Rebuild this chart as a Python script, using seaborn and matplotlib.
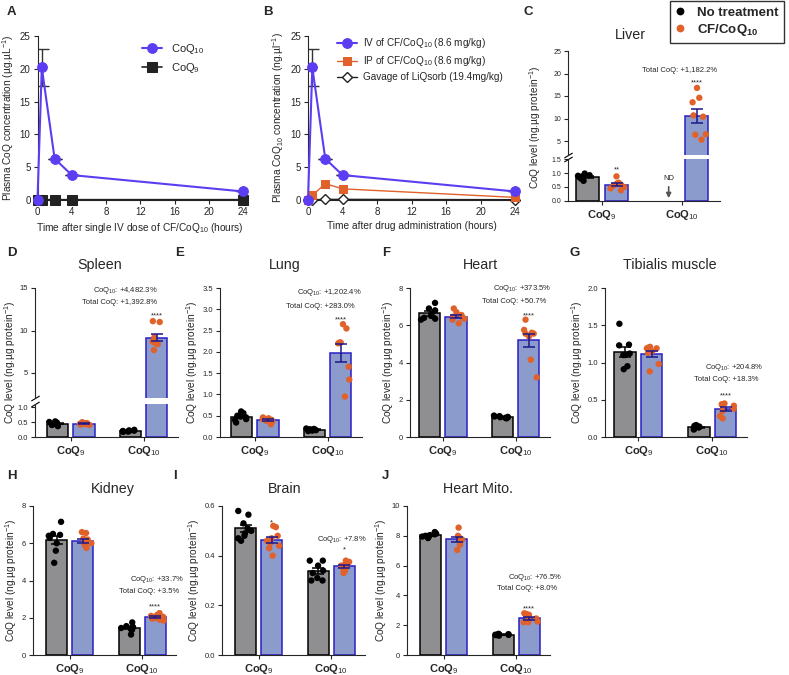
import numpy as np
import pandas as pd
import matplotlib
matplotlib.use("Agg")
import matplotlib.pyplot as plt
from matplotlib.lines import Line2D
from matplotlib.ticker import FormatStrFormatter
import seaborn as sns

# ---- plasma pharmacokinetics (A, B) ----
pk_time = [0, 0.5, 2, 4, 24]
iv_coq10 = [0, 20.2, 6.3, 3.8, 1.3]
iv_coq10_sem = [0, 2.75, 0, 0, 0]
iv_coq9 = [0, 0.05, 0.05, 0.05, 0.05]
ip_coq10 = [0, 0.7, 2.5, 1.7, 0.4]
gavage_coq10 = [0, 0.05, 0.1, 0.1, 0.05]

# ---- tissue CoQ levels (ng/ug protein) ----
liver_ctrl_q9 = [0.98, 0.92, 0.90, 0.88, 0.86, 0.85, 0.80, 0.72]
liver_cf_q9 = [0.88, 0.65, 0.62, 0.58, 0.55, 0.50, 0.45, 0.38]
liver_ctrl_q10 = []  # not detected
liver_cf_q10 = [16.8, 14.6, 13.6, 10.7, 10.4, 6.5, 6.4, 5.3]

spleen_ctrl_q9 = [0.52, 0.50, 0.48, 0.46, 0.45, 0.43, 0.40, 0.36]
spleen_cf_q9 = [0.49, 0.48, 0.46, 0.45, 0.44, 0.43, 0.41, 0.40]
spleen_ctrl_q10 = [0.24, 0.22, 0.21, 0.20, 0.20, 0.19, 0.18, 0.17]
spleen_cf_q10 = [11.1, 11.0, 9.2, 8.7, 8.6, 8.5, 8.4, 7.7]

lung_ctrl_q9 = [0.60, 0.56, 0.50, 0.48, 0.46, 0.42, 0.40, 0.34]
lung_cf_q9 = [0.46, 0.44, 0.42, 0.41, 0.40, 0.38, 0.36, 0.30]
lung_ctrl_q10 = [0.20, 0.19, 0.18, 0.17, 0.17, 0.16, 0.15, 0.14]
lung_cf_q10 = [2.65, 2.55, 2.22, 2.20, 2.22, 1.65, 1.35, 0.95]

heart_ctrl_q9 = [7.2, 6.9, 6.8, 6.6, 6.5, 6.4, 6.35, 6.3]
heart_cf_q9 = [6.9, 6.7, 6.55, 6.45, 6.4, 6.35, 6.3, 6.1]
heart_ctrl_q10 = [1.15, 1.12, 1.10, 1.08, 1.06, 1.05, 1.03, 1.00]
heart_cf_q10 = [6.3, 5.75, 5.6, 5.55, 5.55, 5.4, 4.15, 3.2]

tibialis_ctrl_q9 = [1.52, 1.24, 1.23, 1.12, 1.10, 1.10, 0.95, 0.91]
tibialis_cf_q9 = [1.21, 1.20, 1.19, 1.19, 1.15, 1.13, 0.98, 0.88]
tibialis_ctrl_q10 = [0.16, 0.15, 0.14, 0.13, 0.13, 0.12, 0.11, 0.10]
tibialis_cf_q10 = [0.45, 0.44, 0.43, 0.42, 0.38, 0.35, 0.28, 0.25]

kidney_ctrl_q9 = [7.15, 6.5, 6.45, 6.4, 6.3, 6.0, 5.6, 4.95]
kidney_cf_q9 = [6.6, 6.55, 6.25, 6.2, 5.95, 5.85, 5.75, 6.0]
kidney_ctrl_q10 = [1.75, 1.55, 1.5, 1.5, 1.45, 1.4, 1.35, 1.1]
kidney_cf_q10 = [2.25, 2.15, 2.1, 2.05, 2.0, 1.95, 1.9, 1.85]

brain_ctrl_q9 = [0.58, 0.565, 0.53, 0.51, 0.50, 0.49, 0.48, 0.47, 0.46]
brain_cf_q9 = [0.52, 0.515, 0.48, 0.47, 0.46, 0.45, 0.44, 0.43, 0.40]
brain_ctrl_q10 = [0.38, 0.38, 0.36, 0.34, 0.33, 0.31, 0.30, 0.30]
brain_cf_q10 = [0.38, 0.375, 0.37, 0.365, 0.36, 0.35, 0.345, 0.34, 0.33]

mito_ctrl_q9 = [8.25, 8.15, 8.1, 8.05, 8.0, 7.95, 7.9, 7.85]
mito_cf_q9 = [8.55, 8.0, 7.9, 7.8, 7.75, 7.7, 7.4, 7.05]
mito_ctrl_q10 = [1.42, 1.40, 1.38, 1.37, 1.36, 1.35, 1.33, 1.30]
mito_cf_q10 = [2.8, 2.75, 2.7, 2.45, 2.35, 2.25, 2.2, 2.2]

COQ_ORDER = ["CoQ9", "CoQ10"]
GROUP_ORDER = ["No treatment", "CF/CoQ10"]
COQ_LABELS = [r"$\mathbf{CoQ}_{9}$", r"$\mathbf{CoQ}_{10}$"]

BAR_FILL = ["#8f8f91", "#8b9bcc"]
BAR_EDGE = ["#000000", "#2a1fc4"]
ERR_COLOR = ["#000000", "#1c178c"]
DOT_COLOR = ["#000000", "#e0622a"]
IV_BLUE = "#5c3df2"
ORANGE = "#e0622a"

sns.set_style("ticks")
plt.rcParams["font.family"] = ["Liberation Sans", "DejaVu Sans"]
plt.rcParams["mathtext.fontset"] = "custom"
plt.rcParams["mathtext.rm"] = "Liberation Sans"
plt.rcParams["mathtext.it"] = "Liberation Sans:italic"
plt.rcParams["mathtext.bf"] = "Liberation Sans:bold"
plt.rcParams["axes.linewidth"] = 0.8

W, H = 789, 675
fig = plt.figure(figsize=(W / 100, H / 100), dpi=100)


def px_axes(left, top, right, bottom):
    return fig.add_axes([left / W, 1 - bottom / H, (right - left) / W, (bottom - top) / H])


def tissue_df(ctrl9, cf9, ctrl10, cf10):
    parts = []
    for coq, grp, vals in [("CoQ9", GROUP_ORDER[0], ctrl9), ("CoQ9", GROUP_ORDER[1], cf9),
                           ("CoQ10", GROUP_ORDER[0], ctrl10), ("CoQ10", GROUP_ORDER[1], cf10)]:
        if len(vals):
            parts.append(pd.DataFrame({"coq": coq, "group": grp, "value": vals}))
    return pd.concat(parts, ignore_index=True)


def draw_bars(ax, df, seed):
    sns.barplot(data=df, x="coq", y="value", hue="group", order=COQ_ORDER, hue_order=GROUP_ORDER,
                palette=BAR_FILL, saturation=1, errorbar=None, width=0.72, gap=0.19,
                linewidth=1.1, legend=False, zorder=1, ax=ax)
    for cont, edge in zip(ax.containers, BAR_EDGE):
        for patch in cont:
            patch.set_edgecolor(edge)
    np.random.seed(seed)
    sns.stripplot(data=df, x="coq", y="value", hue="group", order=COQ_ORDER, hue_order=GROUP_ORDER,
                  palette=DOT_COLOR, dodge=True, jitter=0.2, size=4.6, linewidth=0,
                  legend=False, zorder=3, ax=ax)
    stats = df.groupby(["group", "coq"])["value"].agg(["mean", "sem"])
    for cont, grp, ecol in zip(ax.containers, GROUP_ORDER, ERR_COLOR):
        for patch in cont:
            xc = patch.get_x() + patch.get_width() / 2
            coq = COQ_ORDER[int(round(xc))]
            if (grp, coq) not in stats.index:
                continue
            m, s = stats.loc[(grp, coq)]
            ax.errorbar(xc, m, yerr=s, fmt="none", ecolor=ecol, elinewidth=1.1,
                        capsize=4.5, capthick=1.1, zorder=4)
    ax.set_xlabel("")
    ax.set_ylabel("")
    sns.despine(ax=ax)
    ax.tick_params(length=3, width=0.8, labelsize=5.5, pad=2)
    ax.set_xticks([0, 1])
    ax.set_xticklabels(COQ_LABELS, fontsize=8)


def break_marks(ax_top, ax_bot):
    kw = dict(marker=[(-1, -0.6), (1, 0.6)], markersize=6, linestyle="none",
              color="k", mec="k", mew=0.8, clip_on=False)
    ax_top.plot([0], [0], transform=ax_top.transAxes, **kw)
    ax_bot.plot([0], [1], transform=ax_bot.transAxes, **kw)


def note(ax, x, y, s, ha="right"):
    ax.text(x, y, s, ha=ha, va="baseline", fontsize=5.5)


YLAB = "CoQ level (ng.µg protein$^{-1}$)"

# ---------------- A ----------------
axA = px_axes(37.5, 36, 243, 200)
sns.lineplot(x=pk_time, y=iv_coq10, color=IV_BLUE, marker="o", markersize=7, mec=IV_BLUE,
             linewidth=1.5, errorbar=None, clip_on=False, label="CoQ$_{10}$", zorder=4, ax=axA)
sns.lineplot(x=pk_time, y=iv_coq9, color="#222222", marker="s", markersize=6.5, mec="#222222",
             linewidth=1.2, errorbar=None, clip_on=False, label="CoQ$_{9}$", zorder=3, ax=axA)
axA.errorbar(pk_time, iv_coq10, yerr=iv_coq10_sem, fmt="none", ecolor="#333333",
             elinewidth=1, capsize=5, capthick=1, zorder=2)
handles, labels = axA.get_legend_handles_labels()
axA.legend(handles, labels, loc="upper left", bbox_to_anchor=(0.51, 0.965), frameon=False,
           fontsize=8, handlelength=1.8, handletextpad=0.8, labelspacing=0.45,
           borderpad=0, borderaxespad=0)
axA.set_xlim(0, 24)
axA.set_ylim(0, 25)
axA.set_xticks(range(0, 25, 4))
axA.set_yticks(range(0, 26, 5))
axA.set_xlabel("Time after single IV dose of CF/CoQ$_{10}$ (hours)", fontsize=7.3, labelpad=3)
axA.set_ylabel("Plasma CoQ concentration (µg.µL$^{-1}$)", fontsize=7.3, labelpad=3)
axA.tick_params(length=3, width=0.8, labelsize=7, pad=2)
sns.despine(ax=axA)

# ---------------- B ----------------
axB = px_axes(308, 36, 515, 200)
sns.lineplot(x=pk_time, y=gavage_coq10, color="#222222", marker="D", markersize=5,
             mfc="white", mec="#222222", mew=1, linewidth=1, errorbar=None, clip_on=False,
             label="Gavage of LiQsorb (19.4mg/kg)", zorder=3, ax=axB)
sns.lineplot(x=pk_time, y=ip_coq10, color=ORANGE, marker="s", markersize=6, mec=ORANGE,
             linewidth=1, errorbar=None, clip_on=False,
             label="IP of CF/CoQ$_{10}$ (8.6 mg/kg)", zorder=4, ax=axB)
sns.lineplot(x=pk_time, y=iv_coq10, color=IV_BLUE, marker="o", markersize=7, mec=IV_BLUE,
             linewidth=1.5, errorbar=None, clip_on=False,
             label="IV of CF/CoQ$_{10}$ (8.6 mg/kg)", zorder=5, ax=axB)
axB.errorbar(pk_time, iv_coq10, yerr=iv_coq10_sem, fmt="none", ecolor="#333333",
             elinewidth=1, capsize=5, capthick=1, zorder=2)
handles, labels = axB.get_legend_handles_labels()
axB.legend(handles[::-1], labels[::-1], loc="upper left", bbox_to_anchor=(0.14, 1.0),
           frameon=False, fontsize=7.2, handlelength=2.0, handletextpad=0.6,
           labelspacing=0.4, borderpad=0, borderaxespad=0)
axB.set_xlim(0, 24)
axB.set_ylim(0, 25)
axB.set_xticks(range(0, 25, 4))
axB.set_yticks(range(0, 26, 5))
axB.set_xlabel("Time after drug administration (hours)", fontsize=7.3, labelpad=3)
axB.set_ylabel("Plasma CoQ$_{10}$ concentration (ng.µl$^{-1}$)", fontsize=7.3, labelpad=3)
axB.tick_params(length=3, width=0.8, labelsize=7, pad=2)
sns.despine(ax=axB)

# ---------------- C (liver, broken axis) ----------------
liver = tissue_df(liver_ctrl_q9, liver_cf_q9, liver_ctrl_q10, liver_cf_q10)
axC_up = px_axes(568, 51, 720, 154.5)
axC_lo = px_axes(568, 159, 720, 201)
draw_bars(axC_up, liver, 1)
draw_bars(axC_lo, liver, 1)
for ax in (axC_up, axC_lo):
    ax.set_xlim(-0.425, 1.47)
    ax.tick_params(labelsize=5)
axC_up.set_ylim(2, 25)
axC_up.set_yticks([5, 10, 15, 20, 25])
axC_up.spines["bottom"].set_visible(False)
axC_up.tick_params(bottom=False, labelbottom=False)
axC_lo.set_ylim(0, 1.5)
axC_lo.set_yticks([0, 0.5, 1.0, 1.5])
axC_lo.yaxis.set_major_formatter(FormatStrFormatter("%.1f"))
axC_lo.set_xticklabels(COQ_LABELS, fontsize=8)
break_marks(axC_up, axC_lo)
note(axC_up, 1.44, 20.4, "Total CoQ: +1,182.2%")
note(axC_up, 1.18, 17.6, "****", ha="center")
note(axC_lo, 0.18, 1.04, "**", ha="center")
axC_lo.annotate("ND", xy=(0.83, 0.1), xytext=(0.83, 0.8), ha="center", va="center",
                fontsize=5.5, arrowprops=dict(arrowstyle="-|>", color="#555555", lw=1.2,
                                              mutation_scale=7, shrinkA=1, shrinkB=0))
fig.text(535 / W, 1 - 127 / H, YLAB, rotation=90, ha="center", va="center", fontsize=7.3)

# ---------------- D (spleen, broken axis) ----------------
spleen = tissue_df(spleen_ctrl_q9, spleen_cf_q9, spleen_ctrl_q10, spleen_cf_q10)
axD_up = px_axes(35, 288, 178, 398.5)
axD_lo = px_axes(35, 404, 178, 437)
draw_bars(axD_up, spleen, 2)
draw_bars(axD_lo, spleen, 2)
for ax in (axD_up, axD_lo):
    ax.set_xlim(-0.49, 1.47)
axD_up.set_ylim(2, 15)
axD_up.set_yticks([5, 10, 15])
axD_up.spines["bottom"].set_visible(False)
axD_up.tick_params(bottom=False, labelbottom=False)
axD_lo.set_ylim(0, 1.1)
axD_lo.set_yticks([0, 0.5, 1.0])
axD_lo.yaxis.set_major_formatter(FormatStrFormatter("%.1f"))
break_marks(axD_up, axD_lo)
note(axD_up, 1.19, 14.56, "CoQ$_{10}$: +4,482.3%")
note(axD_up, 1.19, 13.15, "Total CoQ: +1,392.8%")
note(axD_up, 1.18, 11.54, "****", ha="center")
fig.text(10 / W, 1 - 362 / H, YLAB, rotation=90, ha="center", va="center", fontsize=7.3)

# ---------------- remaining tissues ----------------
panels = [
    # name, data, (left, top, right, bottom), xlim left, ylim, yticks, fmt, seed
    ("E", tissue_df(lung_ctrl_q9, lung_cf_q9, lung_ctrl_q10, lung_cf_q10),
     (220, 288, 362, 437), -0.48, 3.5, np.arange(0, 3.51, 0.5), "%.1f", 3),
    ("F", tissue_df(heart_ctrl_q9, heart_cf_q9, heart_ctrl_q10, heart_cf_q10),
     (410, 288, 550, 437), -0.45, 8, np.arange(0, 9, 2), "%d", 4),
    ("G", tissue_df(tibialis_ctrl_q9, tibialis_cf_q9, tibialis_ctrl_q10, tibialis_cf_q10),
     (605, 288, 747, 437), -0.45, 2.0, np.arange(0, 2.01, 0.5), "%.1f", 5),
    ("H", tissue_df(kidney_ctrl_q9, kidney_cf_q9, kidney_ctrl_q10, kidney_cf_q10),
     (33, 506, 176, 655), -0.51, 8, np.arange(0, 9, 2), "%d", 6),
    ("I", tissue_df(brain_ctrl_q9, brain_cf_q9, brain_ctrl_q10, brain_cf_q10),
     (222, 506, 365, 655), -0.51, 0.6, np.arange(0, 0.61, 0.2), "%.1f", 7),
    ("J", tissue_df(mito_ctrl_q9, mito_cf_q9, mito_ctrl_q10, mito_cf_q10),
     (407, 506, 550, 655), -0.51, 10, np.arange(0, 11, 2), "%d", 8),
]
axes = {}
for name, df, box, xl, ytop, yticks, fmt, seed in panels:
    ax = px_axes(*box)
    draw_bars(ax, df, seed)
    ax.set_xlim(xl, 1.47)
    ax.set_ylim(0, ytop)
    ax.set_yticks(yticks)
    ax.yaxis.set_major_formatter(FormatStrFormatter(fmt))
    ax.set_ylabel(YLAB, fontsize=7.3, labelpad=2)
    axes[name] = ax

note(axes["E"], 1.47, 3.35, "CoQ$_{10}$: +1,202.4%")
note(axes["E"], 1.37, 3.02, "Total CoQ: +283.0%")
note(axes["E"], 1.18, 2.72, "****", ha="center")
note(axes["F"], 1.49, 7.87, "CoQ$_{10}$: +373.5%")
note(axes["F"], 1.42, 7.22, "Total CoQ: +50.7%")
note(axes["F"], 1.18, 6.43, "****", ha="center")
note(axes["G"], 1.69, 0.917, "CoQ$_{10}$: +204.8%")
note(axes["G"], 1.62, 0.756, "Total CoQ: +18.3%")
note(axes["G"], 1.18, 0.53, "****", ha="center")
note(axes["H"], 1.58, 3.99, "CoQ$_{10}$: +33.7%")
note(axes["H"], 1.51, 3.35, "Total CoQ: +3.5%")
note(axes["H"], 1.18, 2.51, "****", ha="center")
note(axes["I"], 0.18, 0.527, "*", ha="center")
note(axes["I"], 1.49, 0.461, "CoQ$_{10}$: +7.8%")
note(axes["I"], 1.18, 0.418, "*", ha="center")
note(axes["J"], 1.64, 5.12, "CoQ$_{10}$: +76.5%")
note(axes["J"], 1.57, 4.34, "Total CoQ: +8.0%")
note(axes["J"], 1.18, 3.01, "****", ha="center")

# ---------------- titles, letters, legend ----------------
titles = [("Liver", 630, 35), ("Spleen", 100, 265), ("Lung", 285, 265), ("Heart", 480, 265),
          ("Tibialis muscle", 670, 265), ("Kidney", 113, 489), ("Brain", 285, 489),
          ("Heart Mito.", 478, 489)]
for s, x, y in titles:
    fig.text(x / W, 1 - y / H, s, ha="center", va="center", fontsize=10.3)

letters = [("A", 7, 12), ("B", 263, 12), ("C", 523, 12), ("D", 7, 253), ("E", 175, 253),
           ("F", 382, 253), ("G", 570, 253), ("H", 7, 476), ("I", 173, 476), ("J", 382, 476)]
for s, x, y in letters:
    fig.text(x / W, 1 - y / H, s, ha="left", va="center", fontsize=9.5, fontweight="bold")

leg_handles = [Line2D([], [], marker="o", linestyle="none", color=c, markersize=4.6)
               for c in DOT_COLOR]
leg = fig.legend(leg_handles, ["No treatment", r"CF/CoQ$_\mathbf{10}$"], loc="upper left",
                 bbox_to_anchor=(670 / W, 1 - 1 / H), frameon=True, fancybox=False,
                 edgecolor="black", prop={"size": 9.5, "weight": "bold"}, handlelength=0.7,
                 handletextpad=0.95, labelspacing=0.25, borderpad=0.4, borderaxespad=0)
leg.get_frame().set_linewidth(1.0)

fig.savefig("out.png", dpi=100)
